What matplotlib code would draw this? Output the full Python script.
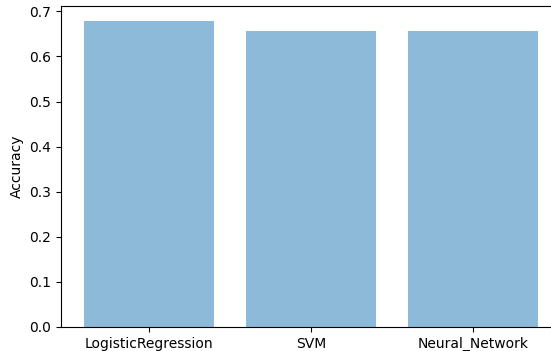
import numpy as np
import matplotlib
matplotlib.use("Agg")
import matplotlib.pyplot as plt

models = ["LogisticRegression", "SVM", "Neural_Network"]
accuracy = [0.678, 0.656, 0.656]

fig = plt.figure(figsize=(5.51, 3.51), dpi=100)
# the original screenshot cuts off the right side of the axes
ax = fig.add_axes([61/551, 24/351, 500/551, 321/351])

pos = np.arange(len(models))
ax.bar(pos, accuracy, align="center", alpha=0.5)
ax.set_xticks(pos)
ax.set_xticklabels(models)
ax.set_ylabel("Accuracy")
ax.spines["right"].set_visible(False)

fig.savefig("out.png", dpi=100)
